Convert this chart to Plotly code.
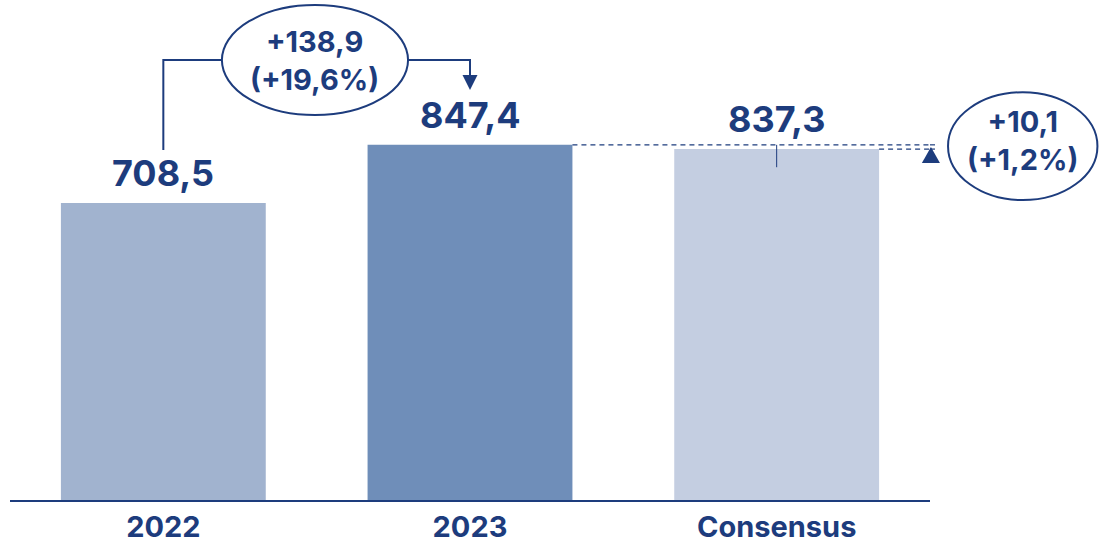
import plotly.graph_objects as go

# Revenue comparison: 2022 actual, 2023 actual and market consensus
categories = ["2022", "2023", "Consensus"]
values = [708.5, 847.4, 837.3]
bar_colors = ["#A1B3CF", "#6F8EB9", "#C4CEE1"]

NAVY = "#1D3C7D"
FONT = "Inter"
Y_MAX = 1193
BAR_W = 0.668


def fmt(v, signed=False):
    s = f"{v:+.1f}" if signed else f"{v:.1f}"
    return s.replace(".", ",")


delta_yoy = values[1] - values[0]
pct_yoy = delta_yoy / values[0] * 100
delta_cons = values[1] - values[2]
pct_cons = delta_cons / values[2] * 100

fig = go.Figure(
    go.Bar(
        x=categories,
        y=values,
        marker=dict(color=bar_colors, line=dict(width=0)),
        width=BAR_W,
        hoverinfo="skip",
    )
)

annotations = []
# value labels above each bar (category index positions)
for i, v in enumerate(values):
    annotations.append(dict(
        x=i, y=v, xref="x", yref="y", text=f"<b>{fmt(v)}</b>",
        showarrow=False, xanchor="center", yanchor="bottom", yshift=6,
        font=dict(family=FONT, size=36, color=NAVY),
    ))

# year-over-year change bubble
annotations.append(dict(
    x=0.4945, y=1049.6, xref="x", yref="y",
    text=f"<b>{fmt(delta_yoy, True)}<br>({fmt(pct_yoy, True)}%)</b>",
    showarrow=False, align="center", xanchor="center", yanchor="middle",
    font=dict(family=FONT, size=29, color=NAVY),
))
# difference versus consensus bubble
annotations.append(dict(
    x=1.101, y=857, xref="paper", yref="y",
    text=f"<b>{fmt(delta_cons, True)}<br>({fmt(pct_cons, True)}%)</b>",
    showarrow=False, align="center", xanchor="center", yanchor="middle",
    font=dict(family=FONT, size=29, color=NAVY),
))

line = dict(color=NAVY, width=2)
dash = dict(color=NAVY, width=1.2, dash="5px,4px")
shapes = [
    # bubble outlines
    dict(type="circle", xref="x", yref="y", x0=0.191, x1=0.798,
         y0=918.4, y1=1180.8, line=line),
    dict(type="circle", xref="paper", yref="y", x0=1.0196, x1=1.182,
         y0=715.6, y1=973, line=line),
    # connector from the 2022 bar to the 2023 bar
    dict(type="path", xref="x", yref="y",
         path="M 0,835 L 0,1049.6 L 0.191,1049.6", line=line),
    dict(type="path", xref="x", yref="y",
         path="M 0.798,1049.6 L 1,1049.6 L 1,1010", line=line),
    dict(type="path", xref="x", yref="y",
         path="M 0.9755,1013.8 L 1.0245,1013.8 L 1,978 Z",
         fillcolor=NAVY, line=dict(color=NAVY, width=0)),
    # dashed reference lines from the bar tops
    dict(type="line", xref="x", yref="y", x0=1 + BAR_W / 2, x1=2.5,
         y0=values[1], y1=values[1], line=dash),
    dict(type="line", xref="paper", yref="y", x0=1.0, x1=1.0087,
         y0=values[1], y1=values[1], line=dash),
    dict(type="line", xref="x", yref="y", x0=2 + BAR_W / 2, x1=2.5,
         y0=values[2], y1=values[2], line=dash),
    dict(type="line", xref="paper", yref="y", x0=1.0, x1=1.0087,
         y0=values[2], y1=values[2], line=dash),
    # upward marker pointing to the 2023 level
    dict(type="path", xref="paper", yref="y",
         path="M 0.9912,804 L 1.0108,804 L 1.001,842 Z",
         fillcolor=NAVY, line=dict(color=NAVY, width=0)),
    # tick on the consensus bar
    dict(type="line", xref="x", yref="y", x0=2, x1=2,
         y0=values[1], y1=794, line=dict(color=NAVY, width=1)),
]

fig.update_layout(
    width=1099, height=545,
    margin=dict(l=10, r=169, t=0, b=45),
    plot_bgcolor="white", paper_bgcolor="white",
    showlegend=False,
    bargap=1 - BAR_W,
    xaxis=dict(
        type="category",
        range=[-0.5, 2.5],
        showline=True, linecolor=NAVY, linewidth=2,
        showgrid=False, ticks="",
        tickfont=dict(family=FONT, size=29, color=NAVY, weight="bold"),
        fixedrange=True,
    ),
    yaxis=dict(range=[0, Y_MAX], visible=False, fixedrange=True),
    annotations=annotations,
    shapes=shapes,
)

fig.write_html("out.html", config={"displayModeBar": False})
